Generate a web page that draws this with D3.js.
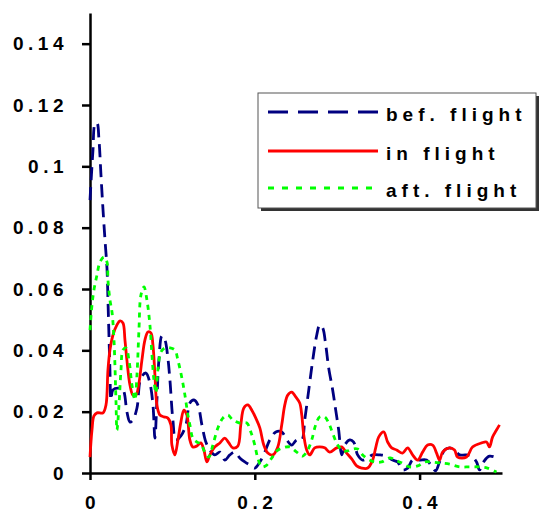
<!DOCTYPE html>
<html>
<head>
<meta charset="utf-8">
<script src="https://cdn.jsdelivr.net/npm/d3@7"></script>
<style>
	body { margin: 0; background: #fff; }
	text { font-family: "Liberation Sans", Arial, sans-serif; font-weight: bold; }
</style>
</head>
<body>
<svg id="chart"></svg>
<script>
// frequency / value pairs
const befFreq = [0, .0036, .0061, .0085, .0109, .0133, .0158, .0182, .0206, .0218, .0230, .0242, .0255, .0279, .0339, .0400, .0448, .0485, .0521, .0570, .0618, .0679, .0727, .0764, .0788, .0812, .0836, .0873, .0909, .0945, .0970, .1006, .1042, .1103, .1164, .1212, .1261, .1309, .1358, .1406, .1455, .1515, .1576, .1636, .1697, .1758, .1818, .1879, .1939, .2000, .2061, .2121, .2182, .2255, .2327, .2388, .2448, .2509, .2570, .2606, .2655, .2703, .2752, .2788, .2824, .2861, .2897, .2945, .2982, .3018, .3055, .3091, .3152, .3200, .3248, .3309, .3370, .3430, .3515, .3600, .3673, .3733, .3794, .3855, .3915, .4000, .4085, .4145, .4194, .4242, .4303, .4364, .4424, .4485, .4558, .4630, .4691, .4727, .4776, .4848, .4970];
const befVal = [.0890, .1053, .1138, .1141, .1086, .0972, .0858, .0760, .0668, .0564, .0450, .0336, .0238, .0271, .0277, .0271, .0199, .0166, .0173, .0212, .0310, .0326, .0293, .0222, .0114, .0238, .0368, .0447, .0434, .0375, .0303, .0173, .0108, .0121, .0157, .0228, .0238, .0222, .0157, .0101, .0075, .0059, .0068, .0042, .0059, .0068, .0049, .0036, .0026, .0016, .0036, .0068, .0108, .0134, .0134, .0108, .0091, .0108, .0108, .0173, .0271, .0368, .0450, .0483, .0473, .0417, .0342, .0271, .0205, .0140, .0059, .0091, .0108, .0101, .0059, .0042, .0049, .0059, .0059, .0055, .0042, .0036, .0010, .0016, .0042, .0042, .0042, .0023, .0007, .0036, .0075, .0082, .0075, .0059, .0059, .0055, .0036, .0010, .0036, .0055, .0046];

const inFreq = [0, .0024, .0048, .0085, .0158, .0194, .0218, .0242, .0279, .0327, .0364, .0400, .0424, .0448, .0485, .0521, .0558, .0594, .0630, .0667, .0703, .0739, .0764, .0788, .0812, .0848, .0897, .0945, .0982, .0994, .1030, .1067, .1103, .1139, .1176, .1212, .1248, .1297, .1345, .1382, .1418, .1455, .1515, .1576, .1636, .1685, .1733, .1794, .1830, .1867, .1915, .1964, .2012, .2061, .2109, .2158, .2218, .2279, .2327, .2364, .2400, .2448, .2497, .2545, .2570, .2594, .2630, .2667, .2727, .2788, .2848, .2909, .2994, .3055, .3115, .3176, .3236, .3297, .3370, .3430, .3467, .3503, .3564, .3612, .3661, .3721, .3794, .3855, .3915, .3976, .4036, .4097, .4158, .4206, .4242, .4279, .4364, .4424, .4461, .4570, .4642, .4752, .4812, .4848, .4885, .4933, .4970];
const inVal = [.0052, .0140, .0186, .0196, .0196, .0222, .0336, .0401, .0450, .0483, .0496, .0489, .0434, .0368, .0287, .0254, .0254, .0293, .0368, .0434, .0460, .0457, .0417, .0320, .0222, .0189, .0183, .0179, .0157, .0091, .0059, .0108, .0166, .0205, .0189, .0108, .0085, .0088, .0098, .0075, .0036, .0059, .0085, .0098, .0114, .0098, .0082, .0088, .0157, .0212, .0222, .0205, .0179, .0147, .0091, .0065, .0059, .0085, .0157, .0222, .0254, .0264, .0248, .0228, .0189, .0124, .0075, .0059, .0082, .0085, .0082, .0068, .0082, .0085, .0065, .0046, .0023, .0016, .0016, .0042, .0082, .0117, .0134, .0101, .0082, .0075, .0065, .0082, .0059, .0042, .0068, .0091, .0091, .0065, .0042, .0068, .0082, .0075, .0052, .0052, .0085, .0098, .0101, .0085, .0117, .0140, .0157];

const aftFreq = [0, .0024, .0048, .0085, .0121, .0170, .0206, .0218, .0242, .0267, .0291, .0315, .0327, .0352, .0376, .0400, .0436, .0473, .0509, .0545, .0570, .0594, .0618, .0655, .0691, .0727, .0752, .0776, .0800, .0824, .0861, .0909, .0970, .1030, .1067, .1115, .1152, .1188, .1212, .1248, .1297, .1345, .1394, .1442, .1491, .1552, .1612, .1673, .1733, .1818, .1903, .1952, .2000, .2036, .2085, .2145, .2206, .2267, .2339, .2424, .2509, .2582, .2642, .2691, .2739, .2788, .2848, .2897, .2945, .3006, .3067, .3127, .3188, .3248, .3309, .3370, .3455, .3539, .3636, .3709, .3782, .3879, .3976, .4061, .4145, .4242, .4364, .4485, .4606, .4727, .4824, .4933];
const aftVal = [.0466, .0548, .0597, .0646, .0688, .0704, .0688, .0629, .0564, .0525, .0434, .0238, .0140, .0222, .0336, .0401, .0408, .0368, .0287, .0238, .0320, .0466, .0580, .0607, .0564, .0483, .0385, .0303, .0261, .0336, .0395, .0408, .0408, .0401, .0368, .0310, .0254, .0189, .0157, .0114, .0101, .0095, .0068, .0052, .0091, .0147, .0179, .0189, .0173, .0163, .0163, .0134, .0091, .0049, .0020, .0026, .0049, .0072, .0082, .0085, .0068, .0055, .0075, .0108, .0157, .0183, .0183, .0163, .0130, .0091, .0072, .0072, .0078, .0078, .0059, .0046, .0036, .0036, .0049, .0042, .0033, .0020, .0023, .0036, .0036, .0033, .0029, .0020, .0020, .0020, .0016, .0003];

const yTicks = [0, 0.02, 0.04, 0.06, 0.08, 0.1, 0.12, 0.14];
const xTicks = [0, 0.2, 0.4];
const seriesNames = ["bef. flight", "in flight", "aft. flight"];

const width = 541, height = 512;
const margin = { top: 13, right: 39, bottom: 39, left: 90 };

const svg = d3.select("#chart")
	.attr("width", width)
	.attr("height", height);

svg.append("rect").attr("width", width).attr("height", height).attr("fill", "#fff");

const x = d3.scaleLinear()
	.domain([0, 0.5])
	.range([margin.left, width - margin.right]);

const y = d3.scaleLinear()
	.domain([0, 0.15])
	.range([height - margin.bottom, margin.top]);

const fmt = d => String(+d.toFixed(2));

// axes
const yAxis = svg.append("g")
	.attr("transform", `translate(${margin.left},0)`)
	.call(d3.axisLeft(y).tickValues(yTicks).tickFormat(fmt).tickSize(8).tickSizeOuter(0).tickPadding(14));

const xAxis = svg.append("g")
	.attr("transform", `translate(0,${height - margin.bottom})`)
	.call(d3.axisBottom(x).tickValues(xTicks).tickFormat(fmt).tickSize(7).tickSizeOuter(0).tickPadding(16));

[yAxis, xAxis].forEach(a => {
	a.selectAll("path, line").attr("stroke", "#000").attr("stroke-width", 2.5);
	a.selectAll("text")
		.attr("fill", "#000")
		.style("font-size", "19px")
		.style("letter-spacing", "4.5px");
});
xAxis.selectAll("text").attr("dx", 2);

// series
const line = d3.line()
	.x(d => x(d[0]))
	.y(d => y(d[1]))
	.curve(d3.curveCatmullRom.alpha(0.5));

const series = [
	{ f: befFreq, v: befVal, color: "#000080", dash: "13,7", legDash: "20,10" },
	{ f: inFreq, v: inVal, color: "#ff0000", dash: null, legDash: null },
	{ f: aftFreq, v: aftVal, color: "#00ff00", dash: "5,5", legDash: "6,8" }
];

series.forEach(s => {
	svg.append("path")
		.datum(d3.zip(s.f, s.v))
		.attr("fill", "none")
		.attr("stroke", s.color)
		.attr("stroke-width", 2.8)
		.attr("stroke-dasharray", s.dash)
		.attr("d", line);
});

// legend
const lg = svg.append("g").attr("transform", "translate(258,93)");
lg.append("rect")
	.attr("x", 3).attr("y", 3)
	.attr("width", 278).attr("height", 115)
	.attr("fill", "#333");
lg.append("rect")
	.attr("width", 278).attr("height", 115)
	.attr("fill", "#fff")
	.attr("stroke", "#555")
	.attr("stroke-width", 1);

const rowY = [19, 58, 95];
series.forEach((s, i) => {
	lg.append("line")
		.attr("x1", 10).attr("x2", 120)
		.attr("y1", rowY[i]).attr("y2", rowY[i])
		.attr("stroke", s.color)
		.attr("stroke-width", 3)
		.attr("stroke-dasharray", s.legDash);
	lg.append("text")
		.attr("x", 128)
		.attr("y", rowY[i] + 9)
		.style("font-size", "19px")
		.style("letter-spacing", "5px")
		.text(seriesNames[i]);
});
</script>
</body>
</html>
